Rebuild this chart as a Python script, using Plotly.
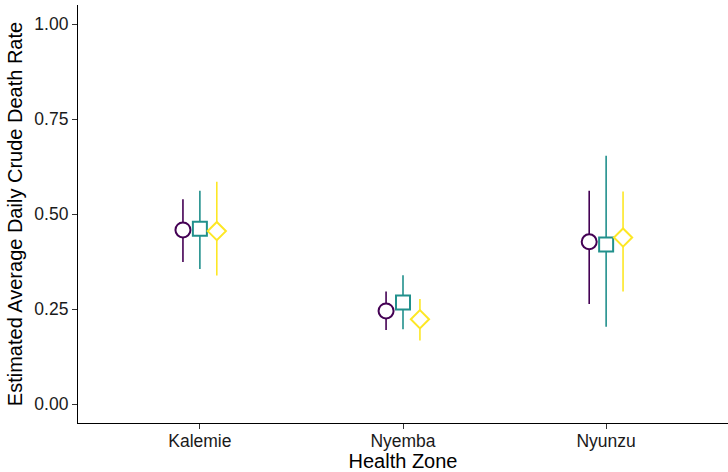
import plotly.graph_objects as go

zones = ["Kalemie", "Nyemba", "Nyunzu"]
series_names = ["Model 1", "Model 2", "Model 3"]

est_1 = [0.458, 0.245, 0.427]
low_1 = [0.374, 0.195, 0.263]
high_1 = [0.539, 0.296, 0.561]

est_2 = [0.461, 0.267, 0.420]
low_2 = [0.355, 0.197, 0.203]
high_2 = [0.561, 0.339, 0.653]

est_3 = [0.455, 0.223, 0.438]
low_3 = [0.338, 0.167, 0.296]
high_3 = [0.585, 0.276, 0.559]

y_ticks = [0.0, 0.25, 0.5, 0.75, 1.0]

colors = ["#440154", "#21908C", "#FDE725"]
symbols = ["circle", "square", "diamond"]
sizes = [15, 14, 14]
dodge_width = 0.25

series = [(est_1, low_1, high_1), (est_2, low_2, high_2), (est_3, low_3, high_3)]

fig = go.Figure()
n = len(series)
for i, (est, lo, hi) in enumerate(series):
    offset = (i - (n - 1) / 2) * dodge_width / n
    xs = [k + 1 + offset for k in range(len(zones))]
    fig.add_trace(go.Scatter(
        x=xs, y=est, mode="markers", name=series_names[i], showlegend=False,
        marker=dict(symbol=symbols[i], size=sizes[i], color="white",
                    line=dict(color=colors[i], width=2)),
        error_y=dict(type="data", symmetric=False,
                     array=[h - e for h, e in zip(hi, est)],
                     arrayminus=[e - l for e, l in zip(est, lo)],
                     width=0, thickness=1.6, color=colors[i]),
    ))

font_family = "Liberation Sans, Arial, sans-serif"
fig.update_layout(
    width=728, height=472,
    margin=dict(l=78, r=0, t=5, b=49),
    plot_bgcolor="white", paper_bgcolor="white",
    font=dict(family=font_family, color="black"),
    xaxis=dict(
        range=[0.4, 3.6], tickvals=[1, 2, 3], ticktext=zones,
        showgrid=False, zeroline=False, showline=True, linecolor="black", linewidth=1.2,
        ticks="outside", ticklen=5, tickcolor="#333", tickwidth=1.2,
        ticklabelstandoff=-3,
        tickfont=dict(size=17.5, color="#1a1a1a"), automargin=False,
        title=dict(text="Health Zone", font=dict(size=20), standoff=2),
    ),
    yaxis=dict(
        range=[-0.05, 1.05], tickvals=y_ticks, tickformat=".2f",
        showgrid=False, zeroline=False, showline=True, linecolor="black", linewidth=1.2,
        ticks="outside", ticklen=5, tickcolor="#333", tickwidth=1.2,
        tickfont=dict(size=17.5, color="#1a1a1a"), automargin=False,
        title=dict(text="Estimated Average Daily Crude Death Rate", font=dict(size=20), standoff=6),
    ),
)

fig.write_html("out.html", config={"displayModeBar": False},
               post_script="document.body.style.margin='0';document.body.style.overflow='hidden';")
